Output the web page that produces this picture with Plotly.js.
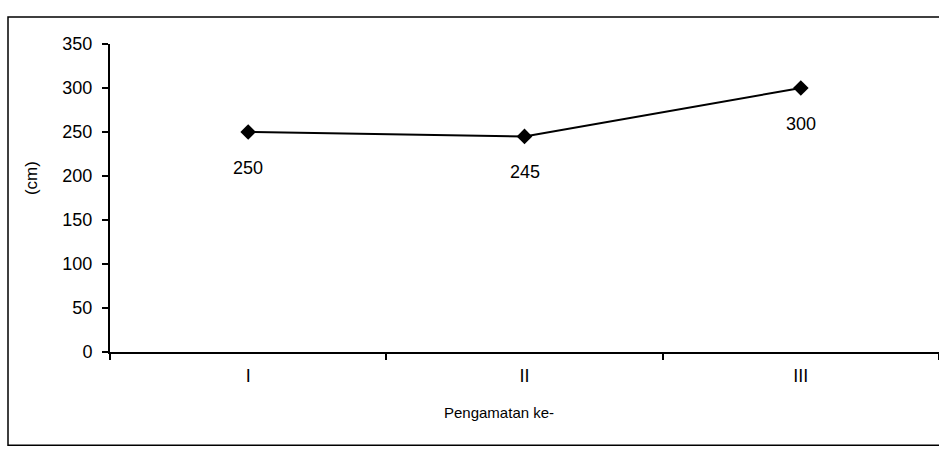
<!DOCTYPE html>
<html>
<head>
<meta charset="utf-8">
<script src="https://cdn.plot.ly/plotly-3.0.1.min.js"></script>
<style>html,body{margin:0;padding:0;background:#fff;}#chart{width:939px;height:451px;}</style>
</head>
<body>
<div id="chart"></div>
<script>
const categories = ["I", "II", "III"];
const values = [250, 245, 300];
const labels = ["250", "245", "300"];
const yTicks = [0, 50, 100, 150, 200, 250, 300, 350];
const xTitle = "Pengamatan ke-";
const yTitle = "(cm)";

const font = "Liberation Sans, Arial, sans-serif";

const trace = {
  x: categories,
  y: values,
  type: "scatter",
  mode: "lines+markers",
  line: {color: "#000", width: 2},
  marker: {symbol: "diamond", size: 12, color: "#000"},
  hoverinfo: "none"
};

const annotations = categories.map((c, i) => ({
  x: c, y: values[i], xref: "x", yref: "y",
  text: labels[i], showarrow: false, yshift: -36,
  font: {family: font, size: 18, color: "#000"}
}));

annotations.push({
  xref: "paper", yref: "paper", x: 0.469, y: -0.195,
  text: xTitle, showarrow: false, xanchor: "center", yanchor: "middle",
  font: {family: font, size: 15, color: "#000"}
});
annotations.push({
  xref: "paper", yref: "paper", x: -0.094, y: 0.565,
  text: yTitle, showarrow: false, textangle: -90, xanchor: "center", yanchor: "middle",
  font: {family: font, size: 17, color: "#000"}
});

const layout = {
  width: 939, height: 451,
  margin: {l: 110, r: 0, t: 44, b: 99},
  paper_bgcolor: "#fff", plot_bgcolor: "#fff",
  showlegend: false,
  font: {family: font, color: "#000"},
  xaxis: {
    type: "category",
    range: [-0.5, 2.5],
    tickson: "boundaries",
    ticks: "outside", ticklen: 6, tickcolor: "#000", tickwidth: 2,
    showline: true, linecolor: "#000", linewidth: 2,
    showgrid: false, zeroline: false,
    tickfont: {family: font, size: 18},
    ticklabelstandoff: 6
  },
  yaxis: {
    range: [0, 350],
    tickvals: yTicks,
    ticktext: yTicks.map(String),
    ticks: "outside", ticklen: 6, tickcolor: "#000", tickwidth: 2,
    showline: true, linecolor: "#000", linewidth: 2,
    showgrid: false, zeroline: false,
    tickfont: {family: font, size: 18},
    ticklabelstandoff: 6
  },
  annotations: annotations,
  shapes: [{
    type: "rect", xref: "paper", yref: "paper",
    x0: -102/829, x1: 1.05, y0: -93/307, y1: 1 + 27/307,
    line: {color: "#000", width: 1.5}, fillcolor: "rgba(0,0,0,0)", layer: "below"
  }]
};

Plotly.newPlot("chart", [trace], layout, {displayModeBar: false, staticPlot: true});
</script>
</body>
</html>
